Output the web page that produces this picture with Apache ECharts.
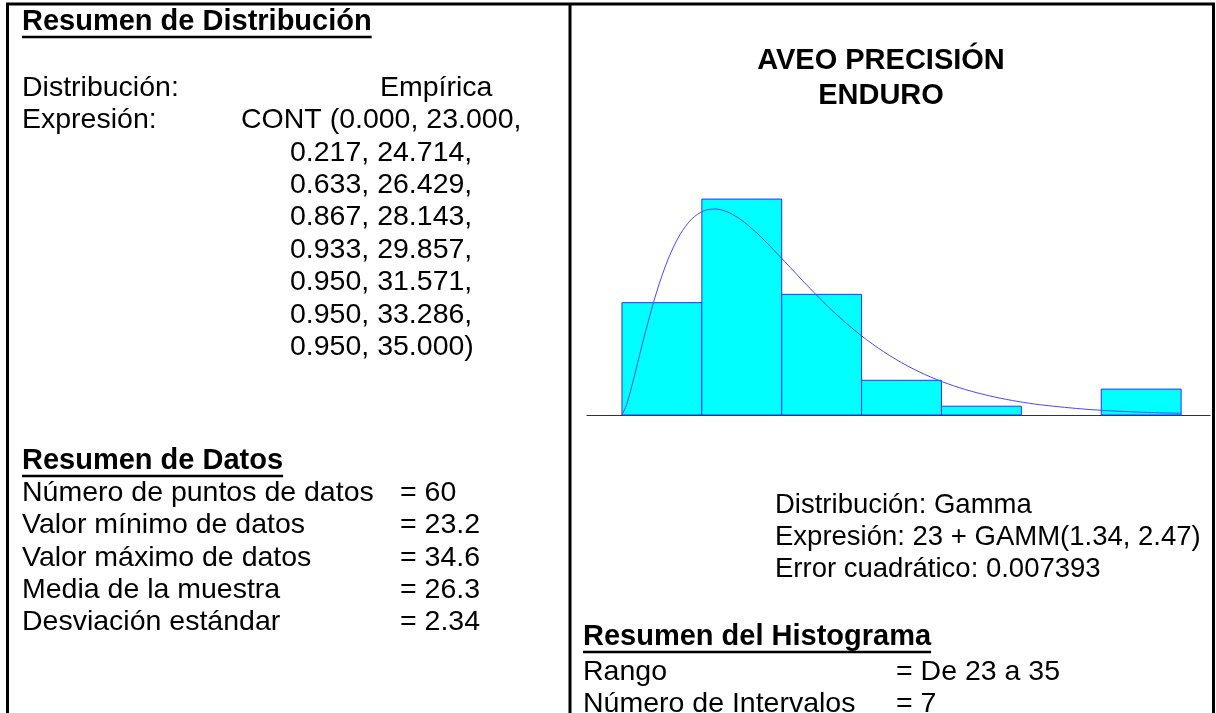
<!DOCTYPE html>
<html><head><meta charset="utf-8">
<script src="https://cdn.jsdelivr.net/npm/echarts@6/dist/echarts.min.js"></script>
<style>html,body{margin:0;padding:0;background:#fff}#c{width:1216px;height:713px}</style>
</head><body><div id="c"></div>
<script>
// ---- data ----
const binEdges = [23.000, 24.714, 26.429, 28.143, 29.857, 31.571, 33.286, 35.000];
const binProportions = [0.217, 0.417, 0.233, 0.067, 0.017, 0.000, 0.050];
const curveX = [23, 23.1, 23.25, 23.375, 23.5, 23.75, 24, 24.25, 24.5, 24.75, 25, 25.25, 25.5, 25.75, 26, 26.5, 27, 27.5, 28, 28.5, 29, 29.5, 30, 30.5, 31, 31.5, 32, 33, 34, 35];
const curveY = [0, 0.0201, 0.0691, 0.1142, 0.1589, 0.2392, 0.3030, 0.3490, 0.3787, 0.3941, 0.3979, 0.3927, 0.3805, 0.3630, 0.3424, 0.2958, 0.2478, 0.2028, 0.1631, 0.1292, 0.1011, 0.0783, 0.0601, 0.0458, 0.0347, 0.0261, 0.0195, 0.0108, 0.0059, 0.0032];
const titleLines = ['AVEO PRECISIÓN', 'ENDURO'];
const distHeading = 'Resumen de Distribución';
const distLabels = ['Distribución:', 'Expresión:'];
const distValues = ['Empírica', 'CONT (0.000, 23.000,'];
const contLines = ['0.217, 24.714,', '0.633, 26.429,', '0.867, 28.143,', '0.933, 29.857,', '0.950, 31.571,', '0.950, 33.286,', '0.950, 35.000)'];
const dataHeading = 'Resumen de Datos';
const dataLabels = ['Número de puntos de datos', 'Valor mínimo de datos', 'Valor máximo de datos', 'Media de la muestra', 'Desviación estándar'];
const dataValues = ['= 60', '= 23.2', '= 34.6', '= 26.3', '= 2.34'];
const fitLines = ['Distribución: Gamma', 'Expresión: 23 + GAMM(1.34, 2.47)', 'Error cuadrático: 0.007393'];
const histHeading = 'Resumen del Histograma';
const histLabels = ['Rango', 'Número de Intervalos'];
const histValues = ['= De 23 a 35', '= 7'];

// ---- styling / layout ----
const FAM = '"Liberation Sans", Arial, Helvetica, sans-serif';
const fontN = '28.5px ' + FAM;
const fontB = 'bold 29px ' + FAM;
const fontF = '27.5px ' + FAM;
const fontT = 'bold 29px ' + FAM;
const ctx = document.createElement('canvas').getContext('2d');
function tw(s, f) { ctx.font = f; return ctx.measureText(s).width; }

const g = [];
function T(s, x, y, f, align) {
  g.push({type: 'text', x: x, y: y, z: 10, style: {text: s, font: f || fontN, fill: '#000', align: align || 'left', verticalAlign: 'middle'}});
}
function H(s, x, y) {
  T(s, x, y, fontB);
  const w = tw(s, fontB);
  g.push({type: 'line', z: 10, shape: {x1: x, y1: y + 15, x2: x + w, y2: y + 15}, style: {stroke: '#000', lineWidth: 2.5}});
}
function L(x1, y1, x2, y2, w) {
  g.push({type: 'line', z: 10, shape: {x1, y1, x2, y2}, style: {stroke: '#000', lineWidth: w}});
}
// borders
L(6, 4, 1215, 4, 3);
L(7.5, 4, 7.5, 713, 3);
L(570, 4, 570, 713, 3);
L(1213.5, 4, 1213.5, 713, 3);

// left column
H(distHeading, 22, 22);
distLabels.forEach((s, i) => T(s, 22, 88 + i * 32.4));
T(distValues[0], 380, 88);
T(distValues[1], 241, 120.4);
contLines.forEach((s, i) => T(s, 290, 152.8 + i * 32.4));
H(dataHeading, 22, 461);
dataLabels.forEach((s, i) => T(s, 22, 493 + i * 32.4));
dataValues.forEach((s, i) => T(s, 400, 493 + i * 32.4));

// right column
titleLines.forEach((s, i) => T(s, 881, 61 + i * 35, fontT, 'center'));
fitLines.forEach((s, i) => T(s, 775, 505 + i * 32.4, fontF));
H(histHeading, 583, 637);
histLabels.forEach((s, i) => T(s, 583, 672 + i * 32));
histValues.forEach((s, i) => T(s, 896, 672 + i * 32));

const bins = [];
binProportions.forEach((p, i) => { if (p > 0) bins.push([binEdges[i], binEdges[i + 1], p]); });
const curve = curveX.map((x, i) => [x, curveY[i]]);

const chart = echarts.init(document.getElementById('c'), null, {renderer: 'canvas'});
chart.setOption({
  animation: false,
  backgroundColor: '#fff',
  grid: {left: 587, right: 6, top: 182, bottom: 298},
  xAxis: {type: 'value', min: 22.25, max: 35.62, axisLine: {show: true, onZero: true, lineStyle: {color: '#333', width: 1.2}}, axisTick: {show: false}, axisLabel: {show: false}, splitLine: {show: false}},
  yAxis: {type: 'value', min: 0, max: 0.45, show: false},
  series: [
    {type: 'custom', data: bins, z: 2,
     renderItem: function (params, api) {
       const a = api.coord([api.value(0), 0]);
       const b = api.coord([api.value(1), api.value(2)]);
       return {type: 'rect', shape: {x: a[0], y: b[1], width: b[0] - a[0], height: a[1] - b[1]}, style: {fill: '#00FFFF', stroke: '#3030FF', lineWidth: 1}};
     }},
    {type: 'line', data: curve, smooth: 0.3, showSymbol: false, z: 3, lineStyle: {color: '#4848FF', width: 1}}
  ],
  graphic: g
});
</script></body></html>
